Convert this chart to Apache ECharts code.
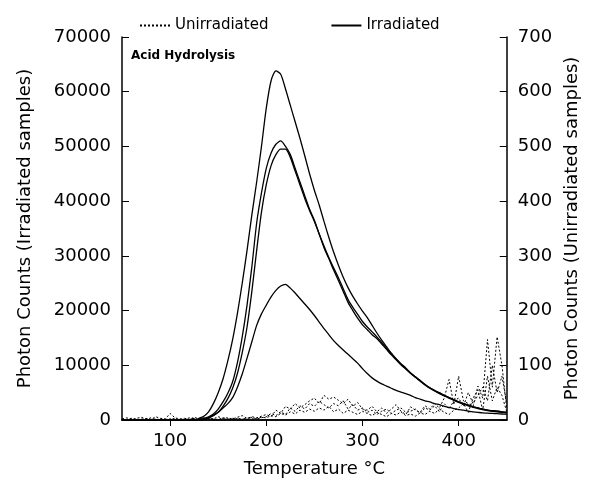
<!doctype html>
<html lang="en">
<head>
  <meta charset="UTF-8">
  <title>Acid Hydrolysis</title>
  <style>
    * {
      margin: 0;
      padding: 0;
    }

    html,
    body {
      width: 100%;
      height: 100%;
      background: #ffffff;
    }

    #main {
      width: 589px;
      height: 483px;
    }
  </style>
</head>
<body>
  <div id="main"></div>
  <script src="https://cdn.jsdelivr.net/npm/echarts@6/dist/echarts.min.js"></script>
  <script>
    // temperature (°C), every 5 degrees
    let temps = [
      50, 55, 60, 65, 70, 75, 80, 85, 90, 95,
      100, 105, 110, 115, 120, 125, 130, 135, 140, 145,
      150, 155, 160, 165, 170, 175, 180, 185, 190, 195,
      200, 205, 210, 215, 220, 225, 230, 235, 240, 245,
      250, 255, 260, 265, 270, 275, 280, 285, 290, 295,
      300, 305, 310, 315, 320, 325, 330, 335, 340, 345,
      350, 355, 360, 365, 370, 375, 380, 385, 390, 395,
      400, 405, 410, 415, 420, 425, 430, 435, 440, 445, 450
    ];

    // irradiated samples (left axis)
    let irrA = [
      0, 0, 0, 0, 0, 0, 0, 0, 0, 0, 0, 0, 0, 0, 0, 0,
      300, 700, 1500, 3000, 5000, 7500, 10800, 14700, 19500, 25000,
      31000, 37500, 43500, 50000, 57000, 62000, 63800, 63200, 60500, 57500,
      54500, 51500, 48300, 45000, 42000, 39300, 36300, 33400, 30700, 28300,
      26100, 24200, 22600, 21200, 19900, 18700, 17300, 15900, 14600, 13400,
      12200, 11200, 10300, 9500, 8600, 7900, 7200, 6500, 5900, 5400,
      5000, 4500, 4100, 3700, 3300, 3000, 2700, 2400, 2200, 2000,
      1800, 1700, 1600, 1500, 1400
    ];
    let irrB = [
      0, 0, 0, 0, 0, 0, 0, 0, 0, 0, 0, 0, 0, 0, 0, 0,
      100, 300, 600, 1100, 2000, 3300, 4900, 7000, 10500, 15200,
      21000, 28000, 36000, 41500, 46000, 48800, 50400, 51000, 50000, 48500,
      46000, 43500, 41000, 38500, 36500, 34000, 31500, 29500, 27400, 25500,
      23500, 21500, 20000, 18600, 17400, 16500, 15600, 14900, 13900, 12900,
      11900, 11000, 10100, 9300, 8500, 7800, 7100, 6400, 5800, 5300,
      4800, 4400, 4000, 3600, 3200, 2900, 2600, 2300, 2100, 1900,
      1700, 1600, 1500, 1400, 1300
    ];
    let irrC = [
      0, 0, 0, 0, 0, 0, 0, 0, 0, 0, 0, 0, 0, 0, 0, 0,
      50, 200, 400, 800, 1400, 2500, 3900, 5800, 8500, 12300,
      17000, 23500, 31000, 38000, 43000, 46500, 48500, 49500, 49500, 48000,
      45500, 43000, 40500, 38300, 36300, 34000, 31800, 29700, 27800, 26000,
      24000, 22000, 20600, 19300, 18000, 17000, 16100, 15200, 14200, 13100,
      12100, 11100, 10200, 9400, 8600, 7900, 7200, 6500, 5900, 5400,
      4900, 4500, 4100, 3700, 3300, 3000, 2700, 2400, 2200, 2000,
      1800, 1700, 1600, 1500, 1400
    ];
    let irrD = [
      0, 0, 0, 0, 0, 0, 0, 0, 0, 0, 0, 0, 0, 0, 0, 0, 0,
      100, 400, 900, 1400, 2200, 3000, 4100, 6000, 8400, 11300,
      14300, 17300, 19400, 21000, 22500, 23700, 24500, 24800, 24100, 23200,
      22200, 21200, 20200, 19100, 17900, 16700, 15600, 14500, 13600, 12800,
      12000, 11200, 10400, 9400, 8500, 7700, 7100, 6600, 6200, 5800,
      5400, 5100, 4800, 4500, 4100, 3800, 3500, 3300, 3000, 2800,
      2500, 2300, 2100, 1900, 1800, 1600, 1500, 1400, 1300, 1250,
      1200, 1150, 1100, 1050
    ];

    // unirradiated samples (right axis)
    let unirr1 = [
      2, 4, 1, 3, 5, 2, 1, 6, 3, 2,
      12, 4, 2, 3, 1, 5, 2, 4, 3, 2,
      6, 3, 4, 2, 5, 8, 3, 6, 4, 7,
      10, 6, 18, 12, 25, 20, 30, 22, 28, 35,
      40, 30, 45, 38, 42, 36, 30, 38, 25, 32,
      20, 18, 25, 15, 22, 12, 20, 28, 16, 10,
      24, 18, 14, 26, 20, 30, 22, 40, 74, 28,
      80, 35, 30, 25, 62, 40, 147, 60, 152, 100, 20
    ];
    let unirr2 = [
      1, 0, 2, 1, 0, 3, 1, 2, 0, 1,
      2, 1, 0, 2, 1, 3, 0, 1, 2, 1,
      0, 2, 1, 3, 2, 1, 4, 2, 3, 5,
      4, 8, 6, 12, 9, 15, 11, 18, 14, 20,
      16, 22, 18, 25, 15, 20, 12, 18, 14, 10,
      16, 12, 8, 14, 10, 6, 12, 9, 15, 8,
      11, 7, 13, 10, 16, 12, 20, 14, 10, 18,
      22, 30, 14, 40, 55, 18, 80, 35, 60, 45, 15
    ];
    let unirr3 = [
      0, 1, 3, 0, 2, 1, 4, 0, 2, 1,
      1, 3, 0, 1, 4, 2, 1, 0, 3, 2,
      1, 4, 2, 0, 3, 2, 1, 5, 2, 4,
      6, 12, 8, 15, 10, 22, 16, 26, 20, 30,
      25, 34, 28, 22, 30, 26, 35, 20, 28, 18,
      22, 14, 18, 10, 16, 20, 12, 18, 22, 14,
      16, 20, 12, 22, 18, 26, 15, 30, 20, 35,
      40, 25, 50, 30, 45, 60, 35, 100, 50, 80, 30
    ];

    let xTicks = [100, 200, 300, 400];

    let font = 'DejaVu Sans';

    function pairs(arr) {
      return temps.map(function (t, i) {
        return [t, arr[i]];
      });
    }

    function irrSeries(arr) {
      return {
        name: 'Irradiated',
        type: 'line',
        yAxisIndex: 0,
        symbol: 'none',
        smooth: 0.25,
        lineStyle: { color: '#000', width: 1.3, type: 'solid' },
        itemStyle: { color: '#000' },
        data: pairs(arr)
      };
    }

    function unirrSeries(arr) {
      return {
        name: 'Unirradiated',
        type: 'line',
        yAxisIndex: 1,
        symbol: 'none',
        lineStyle: { color: '#000', width: 1, type: [2, 2] },
        itemStyle: { color: '#000' },
        data: pairs(arr)
      };
    }

    let myChart = echarts.init(document.getElementById('main'));
    let option = {
      animation: false,
      backgroundColor: '#fff',
      textStyle: { fontFamily: font, color: '#000' },
      title: {
        text: 'Acid Hydrolysis',
        left: 131,
        top: 50,
        padding: 0,
        textStyle: { fontFamily: font, fontSize: 12, fontWeight: 'bold', color: '#000' }
      },
      legend: {
        top: 13,
        left: 134,
        itemWidth: 30,
        itemHeight: 10,
        itemGap: 62,
        itemStyle: { opacity: 0 },
        data: ['Unirradiated', 'Irradiated'],
        textStyle: { fontFamily: font, fontSize: 15, color: '#000' }
      },
      grid: {
        left: 122,
        right: 72,
        top: 37,
        bottom: 63
      },
      xAxis: [
        {
          type: 'value',
          min: 50,
          max: 450,
          position: 'bottom',
          name: 'Temperature °C',
          nameLocation: 'middle',
          nameGap: 40,
          nameTextStyle: { fontFamily: font, fontSize: 18, color: '#000' },
          axisLine: { lineStyle: { color: '#000', width: 1.5 } },
          axisTick: { show: false },
          splitLine: { show: false },
          axisLabel: {
            customValues: xTicks,
            margin: 12,
            fontFamily: font,
            fontSize: 18,
            color: '#000'
          }
        },
        {
          type: 'value',
          min: 50,
          max: 450,
          position: 'top',
          axisLine: { lineStyle: { color: '#000', width: 1.5 } },
          axisTick: { inside: true, length: 6, customValues: xTicks, lineStyle: { color: '#000' } },
          axisLabel: { show: false },
          splitLine: { show: false }
        }
      ],
      yAxis: [
        {
          type: 'value',
          min: 0,
          max: 70000,
          interval: 10000,
          position: 'left',
          name: 'Photon Counts (Irradiated samples)',
          nameLocation: 'middle',
          nameRotate: 90,
          nameGap: 88,
          nameTextStyle: { fontFamily: font, fontSize: 18, color: '#000' },
          axisLine: { show: true, lineStyle: { color: '#000', width: 1.5 } },
          axisTick: { inside: true, length: 7, lineStyle: { color: '#000' } },
          axisLabel: {
            margin: 11,
            fontFamily: font,
            fontSize: 18,
            color: '#000',
            formatter: function (v) {
              return String(v);
            }
          },
          splitLine: { show: false }
        },
        {
          type: 'value',
          min: 0,
          max: 700,
          interval: 100,
          position: 'right',
          name: 'Photon Counts (Unirradiated samples)',
          nameLocation: 'middle',
          nameRotate: 90,
          nameGap: 54,
          nameTextStyle: { fontFamily: font, fontSize: 18, color: '#000' },
          axisLine: { show: true, lineStyle: { color: '#000', width: 1.5 } },
          axisTick: { inside: true, length: 7, lineStyle: { color: '#000' } },
          axisLabel: { margin: 11, fontFamily: font, fontSize: 18, color: '#000' },
          splitLine: { show: false }
        }
      ],
      series: [
        unirrSeries(unirr1),
        unirrSeries(unirr2),
        unirrSeries(unirr3),
        irrSeries(irrA),
        irrSeries(irrB),
        irrSeries(irrC),
        irrSeries(irrD)
      ]
    };
    myChart.setOption(option);
  </script>
</body>
</html>
